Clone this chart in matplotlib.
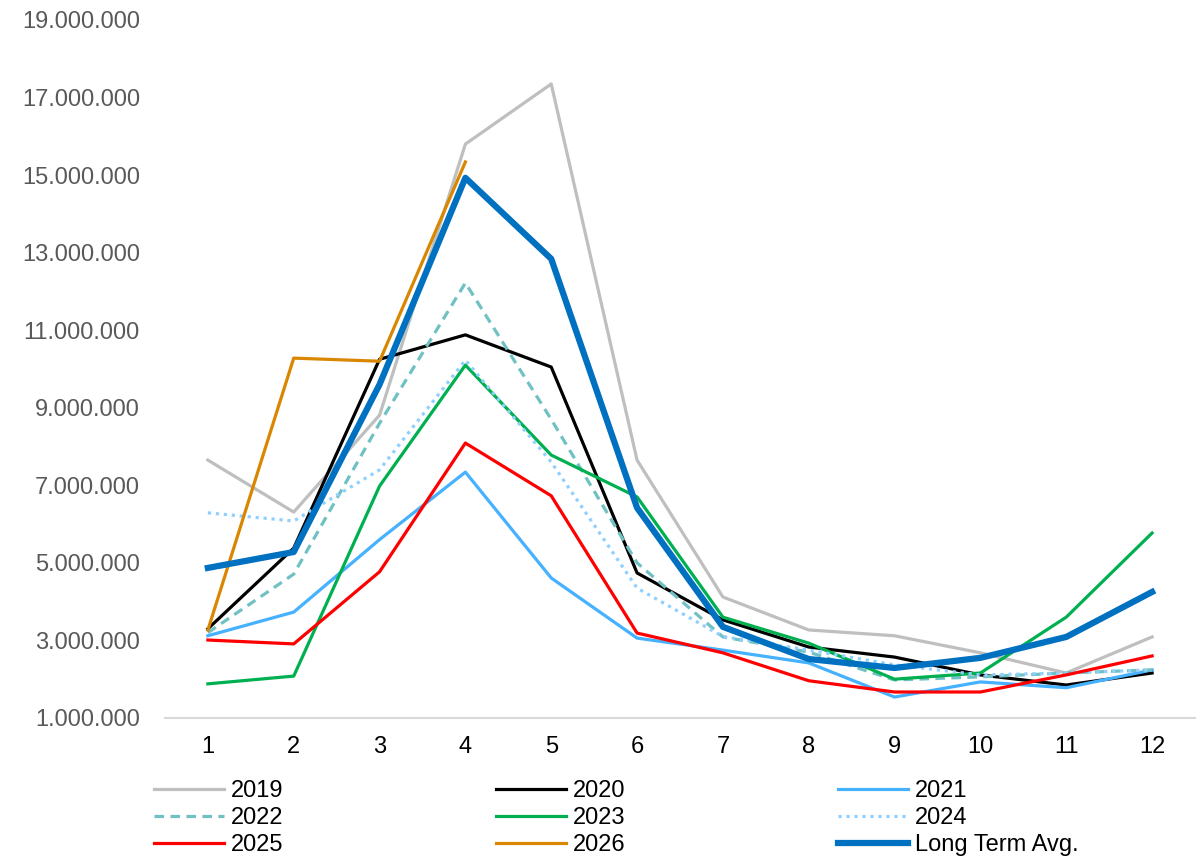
import matplotlib.pyplot as plt
from matplotlib.ticker import FuncFormatter

plt.rcParams['font.family'] = ['Liberation Sans', 'DejaVu Sans']

months = [1, 2, 3, 4, 5, 6, 7, 8, 9, 10, 11, 12]

y2019 = [7.65, 6.31, 8.81, 15.8, 17.35, 7.65, 4.12, 3.27, 3.12, 2.68, 2.16, 3.09]
y2020 = [3.30, 5.38, 10.25, 10.88, 10.05, 4.74, 3.53, 2.83, 2.57, 2.11, 1.85, 2.16]
y2021 = [3.12, 3.73, 5.6, 7.34, 4.61, 3.06, 2.75, 2.42, 1.54, 1.93, 1.78, 2.24]
y2022 = [3.20, 4.71, 8.6, 12.22, 8.7, 5.0, 3.09, 2.7, 1.98, 2.06, 2.16, 2.24]
y2023 = [1.88, 2.08, 6.98, 10.1, 7.78, 6.7, 3.6, 2.93, 2.0, 2.16, 3.6, 5.77]
y2024 = [6.29, 6.08, 7.4, 10.23, 7.6, 4.35, 3.1, 2.75, 2.37, 2.11, 2.16, 2.24]
y2025 = [3.01, 2.91, 4.77, 8.09, 6.73, 3.19, 2.68, 1.96, 1.67, 1.67, 2.11, 2.6]
y2026 = [3.27, 10.28, 10.2, 15.34]
y_avg = [4.87, 5.28, 9.6, 14.93, 12.84, 6.42, 3.35, 2.52, 2.29, 2.55, 3.09, 4.25]

def mil(vals):
    return [v * 1e6 for v in vals]

fig = plt.figure(figsize=(11.98, 8.58), dpi=100)
ax = fig.add_axes([0.1377, 0.1632, 0.8598, 0.8135])

l19, = ax.plot(months, mil(y2019), color='#BFBFBF', lw=2.3, label='2019')
l20, = ax.plot(months, mil(y2020), color='#000000', lw=2.3, label='2020')
l21, = ax.plot(months, mil(y2021), color='#45B1FF', lw=2.3, label='2021')
l22, = ax.plot(months, mil(y2022), color='#70C1C3', lw=2.3, ls=(0, (3, 2)), label='2022')
l23, = ax.plot(months, mil(y2023), color='#00B050', lw=2.3, label='2023')
l24, = ax.plot(months, mil(y2024), color='#8FD0FF', lw=2.3, ls=(0, (1, 1.5)), label='2024')
l25, = ax.plot(months, mil(y2025), color='#FF0000', lw=2.3, label='2025')
l26, = ax.plot(months[:len(y2026)], mil(y2026), color='#D98600', lw=2.3, label='2026')
lavg, = ax.plot(months, mil(y_avg), color='#0070C0', lw=4.5, label='Long Term Avg.')

ax.set_xlim(0.5, 12.5)
ax.set_ylim(1e6, 19e6)
ax.set_xticks(months)
ax.set_yticks([i * 1e6 for i in range(1, 20, 2)])
ax.yaxis.set_major_formatter(FuncFormatter(lambda v, p: f'{int(v):,}'.replace(',', '.')))
ax.tick_params(axis='both', length=0, labelsize=17, colors='#595959')
ax.tick_params(axis='x', pad=13, labelcolor='#000000')
ax.tick_params(axis='y', pad=18)

for s in ['top', 'right', 'left']:
    ax.spines[s].set_visible(False)
ax.spines['bottom'].set_color('#D9D9D9')
ax.spines['bottom'].set_linewidth(1.5)

# legend filled column by column, so order for row-wise look
handles = [l19, l22, l25, l20, l23, l26, l21, l24, lavg]
fig.legend(handles=handles, labels=[h.get_label() for h in handles],
           loc='upper left', bbox_to_anchor=(0.1285, 0.091), ncol=3, frameon=False,
           fontsize=17, handlelength=2.96, handletextpad=0.3, columnspacing=9.0,
           labelspacing=0.22, borderaxespad=0, borderpad=0)

plt.savefig('out.png', dpi=100)
